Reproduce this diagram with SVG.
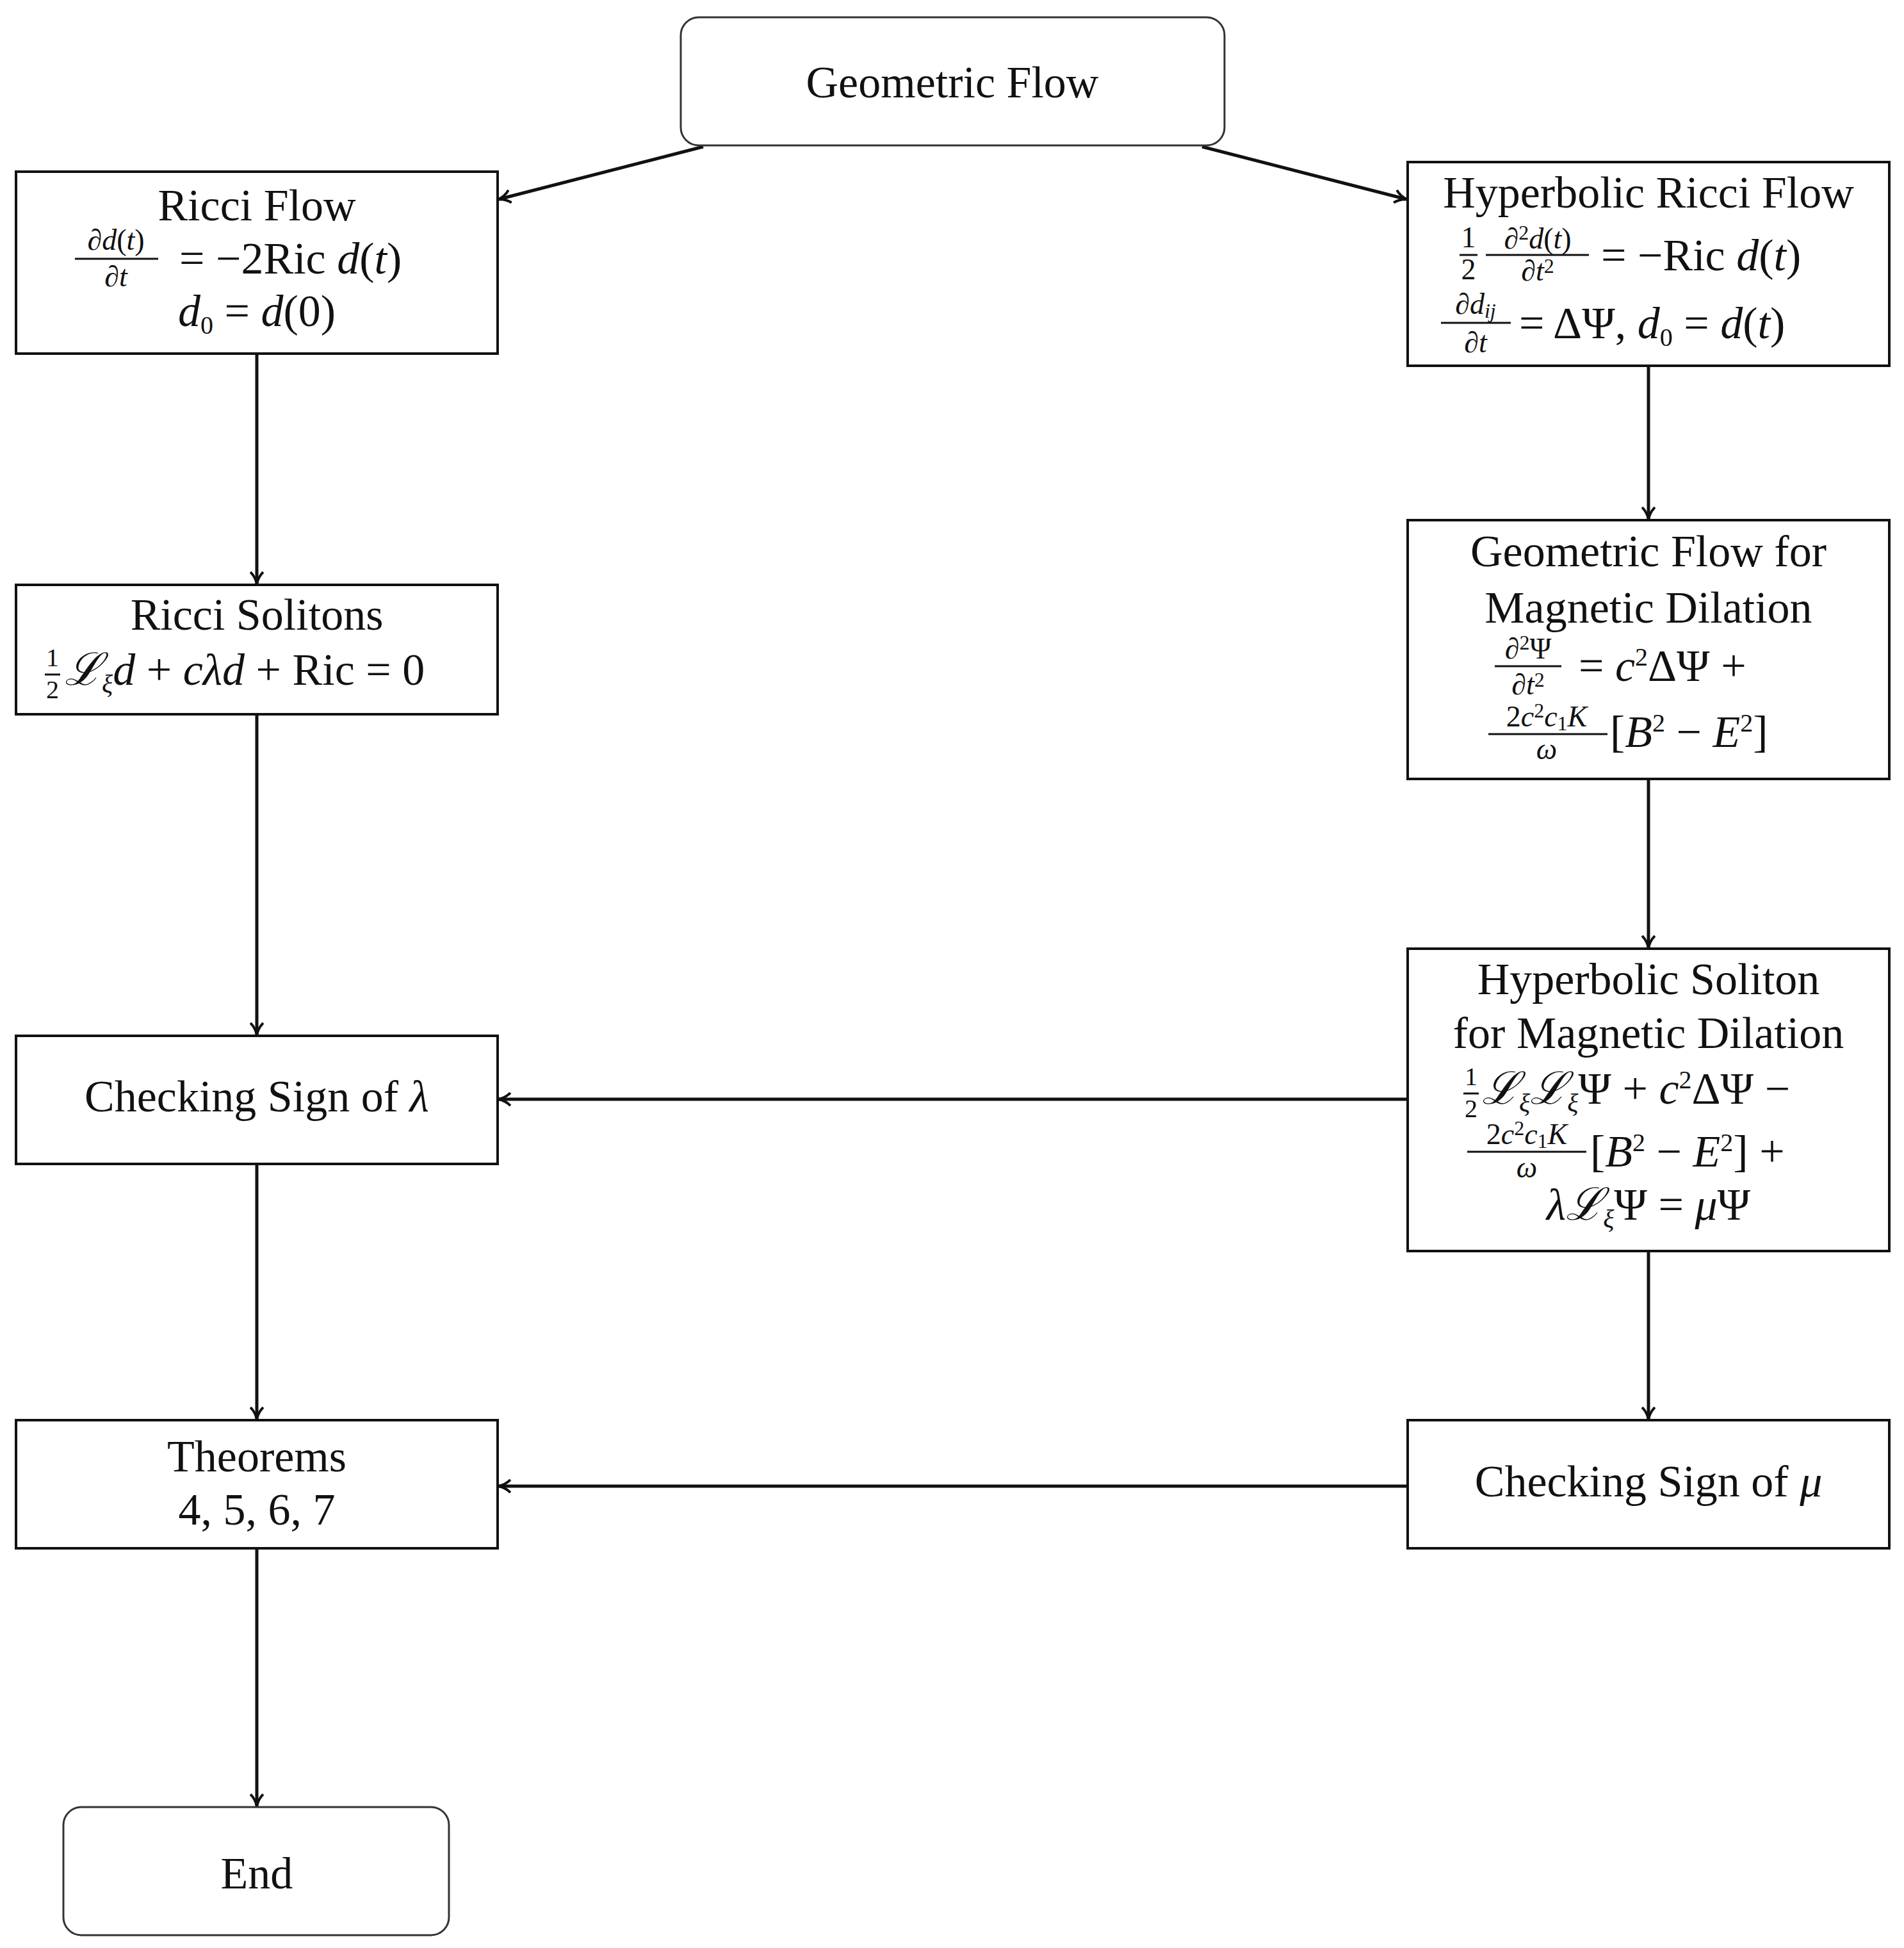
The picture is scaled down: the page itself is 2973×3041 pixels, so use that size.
<svg xmlns="http://www.w3.org/2000/svg" width="2973" height="3041" viewBox="0 0 2973 3041">
<style>
text{font-family:"Liberation Serif","DejaVu Serif",serif;fill:#111;text-anchor:middle}
.t{font-size:70px}
.m{font-size:70px}
.f{font-size:46px}
.s{font-size:40px}
.ss{font-size:32px}
.i{font-style:italic}
.box{fill:#fff;stroke:#111;stroke-width:4}
.rbox{fill:#fff;stroke:#333;stroke-width:3}
.bar{stroke:#111;stroke-width:3}
.c{fill:none;stroke:#111;stroke-width:5;marker-end:url(#ah)}
.st{text-anchor:start}
</style>
<defs>
<marker id="ah" markerWidth="22" markerHeight="22" refX="19" refY="11" orient="auto" markerUnits="userSpaceOnUse">
<path d="M1,1 Q9,9 20,11 Q9,13 1,21" fill="none" stroke="#111" stroke-width="4"/>
</marker>
</defs>
<g id="connectors">
<line class="c" x1="1098" y1="229" x2="779" y2="311"/>
<line class="c" x1="1877" y1="229" x2="2196" y2="311"/>
<line class="c" x1="401" y1="552" x2="401" y2="911"/>
<line class="c" x1="401" y1="1115" x2="401" y2="1615"/>
<line class="c" x1="401" y1="1817" x2="401" y2="2215"/>
<line class="c" x1="401" y1="2417" x2="401" y2="2819"/>
<line class="c" x1="2574" y1="571" x2="2574" y2="810"/>
<line class="c" x1="2574" y1="1216" x2="2574" y2="1479"/>
<line class="c" x1="2574" y1="1953" x2="2574" y2="2215"/>
<line class="c" x1="2198" y1="1716" x2="779" y2="1716"/>
<line class="c" x1="2198" y1="2320" x2="779" y2="2320"/>
</g>
<g id="geometric-flow">
<rect class="rbox" x="1063" y="27" width="849" height="200" rx="28"/>
<text class="t" x="1487" y="152">Geometric Flow</text>
</g>
<g id="ricci-flow">
<rect class="box" x="25" y="268" width="752" height="284"/>
<text class="t" x="401" y="344">Ricci Flow</text>
<text class="f" x="181" y="390">∂<tspan class="i">d</tspan>(<tspan class="i">t</tspan>)</text>
<line class="bar" x1="117" y1="404" x2="247" y2="404"/>
<text class="f" x="181" y="447">∂<tspan class="i">t</tspan></text>
<text class="m st" x="280" y="427">=  −2Ric <tspan class="i">d</tspan>(<tspan class="i">t</tspan>)</text>
<text class="m" x="401" y="509"><tspan class="i">d</tspan><tspan class="s" dy="12">0</tspan><tspan dy="-12">  =  </tspan><tspan class="i">d</tspan>(0)</text>
</g>
<g id="hyperbolic-ricci-flow">
<rect class="box" x="2198" y="253" width="752" height="318"/>
<text class="t" x="2574" y="324">Hyperbolic Ricci Flow</text>
<text class="f" x="2293" y="386">1</text>
<line class="bar" x1="2279" y1="398" x2="2307" y2="398"/>
<text class="f" x="2293" y="436">2</text>
<text class="f" x="2401" y="388">∂<tspan class="ss" dy="-14">2</tspan><tspan class="i" dy="14">d</tspan>(<tspan class="i">t</tspan>)</text>
<line class="bar" x1="2320" y1="398" x2="2481" y2="398"/>
<text class="f" x="2401" y="438">∂<tspan class="i">t</tspan><tspan class="ss" dy="-12">2</tspan></text>
<text class="m st" x="2500" y="422">=  −Ric <tspan class="i">d</tspan>(<tspan class="i">t</tspan>)</text>
<text class="f" x="2304" y="490">∂<tspan class="i">d</tspan><tspan class="ss i" dy="6">ij</tspan></text>
<line class="bar" x1="2250" y1="504" x2="2359" y2="504"/>
<text class="f" x="2304" y="550">∂<tspan class="i">t</tspan></text>
<text class="m st" x="2372" y="528"> = ΔΨ, <tspan class="i">d</tspan><tspan class="s" dy="12">0</tspan><tspan dy="-12"> = </tspan><tspan class="i">d</tspan>(<tspan class="i">t</tspan>)</text>
</g>
<g id="ricci-solitons">
<rect class="box" x="25" y="913" width="752" height="202"/>
<text class="t" x="401" y="983">Ricci Solitons</text>
<text class="s" x="82" y="1040">1</text>
<line class="bar" x1="70" y1="1053" x2="94" y2="1053"/>
<text class="s" x="82" y="1090">2</text>
<text class="m st" x="101" y="1069"><tspan class="i">ℒ</tspan><tspan class="s i" dy="12">ξ</tspan><tspan class="i" dy="-12">d</tspan> + <tspan class="i">cλd</tspan> + Ric = 0</text>
</g>
<g id="geometric-flow-md">
<rect class="box" x="2198" y="812" width="752" height="404"/>
<text class="t" x="2574" y="884">Geometric Flow for</text>
<text class="t" x="2574" y="972">Magnetic Dilation</text>
<text class="f" x="2386" y="1028">∂<tspan class="ss" dy="-14">2</tspan><tspan dy="14">Ψ</tspan></text>
<line class="bar" x1="2334" y1="1040" x2="2438" y2="1040"/>
<text class="f" x="2386" y="1084">∂<tspan class="i">t</tspan><tspan class="ss" dy="-12">2</tspan></text>
<text class="m st" x="2465" y="1063"> = <tspan class="i">c</tspan><tspan class="s" dy="-24">2</tspan><tspan dy="24">ΔΨ +</tspan></text>
<text class="f" x="2415" y="1134">2<tspan class="i">c</tspan><tspan class="ss" dy="-14">2</tspan><tspan class="i" dy="14">c</tspan><tspan class="ss" dy="6">1</tspan><tspan class="i" dy="-6">K</tspan></text>
<line class="bar" x1="2324" y1="1146" x2="2510" y2="1146"/>
<text class="f i" x="2415" y="1185">ω</text>
<text class="m st" x="2514" y="1166">[<tspan class="i">B</tspan><tspan class="s" dy="-24">2</tspan><tspan dy="24"> − </tspan><tspan class="i">E</tspan><tspan class="s" dy="-24">2</tspan><tspan dy="24">]</tspan></text>
</g>
<g id="hyperbolic-soliton">
<rect class="box" x="2198" y="1481" width="752" height="472"/>
<text class="t" x="2574" y="1552">Hyperbolic Soliton</text>
<text class="t" x="2574" y="1636">for Magnetic Dilation</text>
<text class="s" x="2297" y="1694">1</text>
<line class="bar" x1="2285" y1="1707" x2="2309" y2="1707"/>
<text class="s" x="2297" y="1744">2</text>
<text class="m st" x="2314" y="1723"><tspan class="i">ℒ</tspan><tspan class="s i" dy="12">ξ</tspan><tspan class="i" dy="-12">ℒ</tspan><tspan class="s i" dy="12">ξ</tspan><tspan dy="-12">Ψ + </tspan><tspan class="i">c</tspan><tspan class="s" dy="-24">2</tspan><tspan dy="24">ΔΨ −</tspan></text>
<text class="f" x="2384" y="1786">2<tspan class="i">c</tspan><tspan class="ss" dy="-14">2</tspan><tspan class="i" dy="14">c</tspan><tspan class="ss" dy="6">1</tspan><tspan class="i" dy="-6">K</tspan></text>
<line class="bar" x1="2291" y1="1798" x2="2477" y2="1798"/>
<text class="f i" x="2384" y="1838">ω</text>
<text class="m st" x="2483" y="1821">[<tspan class="i">B</tspan><tspan class="s" dy="-24">2</tspan><tspan dy="24"> − </tspan><tspan class="i">E</tspan><tspan class="s" dy="-24">2</tspan><tspan dy="24">] +</tspan></text>
<text class="m" x="2574" y="1904"><tspan class="i">λℒ</tspan><tspan class="s i" dy="12">ξ</tspan><tspan dy="-12">Ψ  =  </tspan><tspan class="i">μ</tspan>Ψ</text>
</g>
<g id="checking-lambda">
<rect class="box" x="25" y="1617" width="752" height="200"/>
<text class="t" x="401" y="1735">Checking Sign of <tspan class="i">λ</tspan></text>
</g>
<g id="checking-mu">
<rect class="box" x="2198" y="2217" width="752" height="200"/>
<text class="t" x="2574" y="2336">Checking Sign of <tspan class="i">μ</tspan></text>
</g>
<g id="theorems">
<rect class="box" x="25" y="2217" width="752" height="200"/>
<text class="t" x="401" y="2297">Theorems</text>
<text class="t" x="401" y="2380">4, 5, 6, 7</text>
</g>
<g id="end">
<rect class="rbox" x="99" y="2821" width="602" height="200" rx="28"/>
<text class="t" x="401" y="2948">End</text>
</g>
</svg>
